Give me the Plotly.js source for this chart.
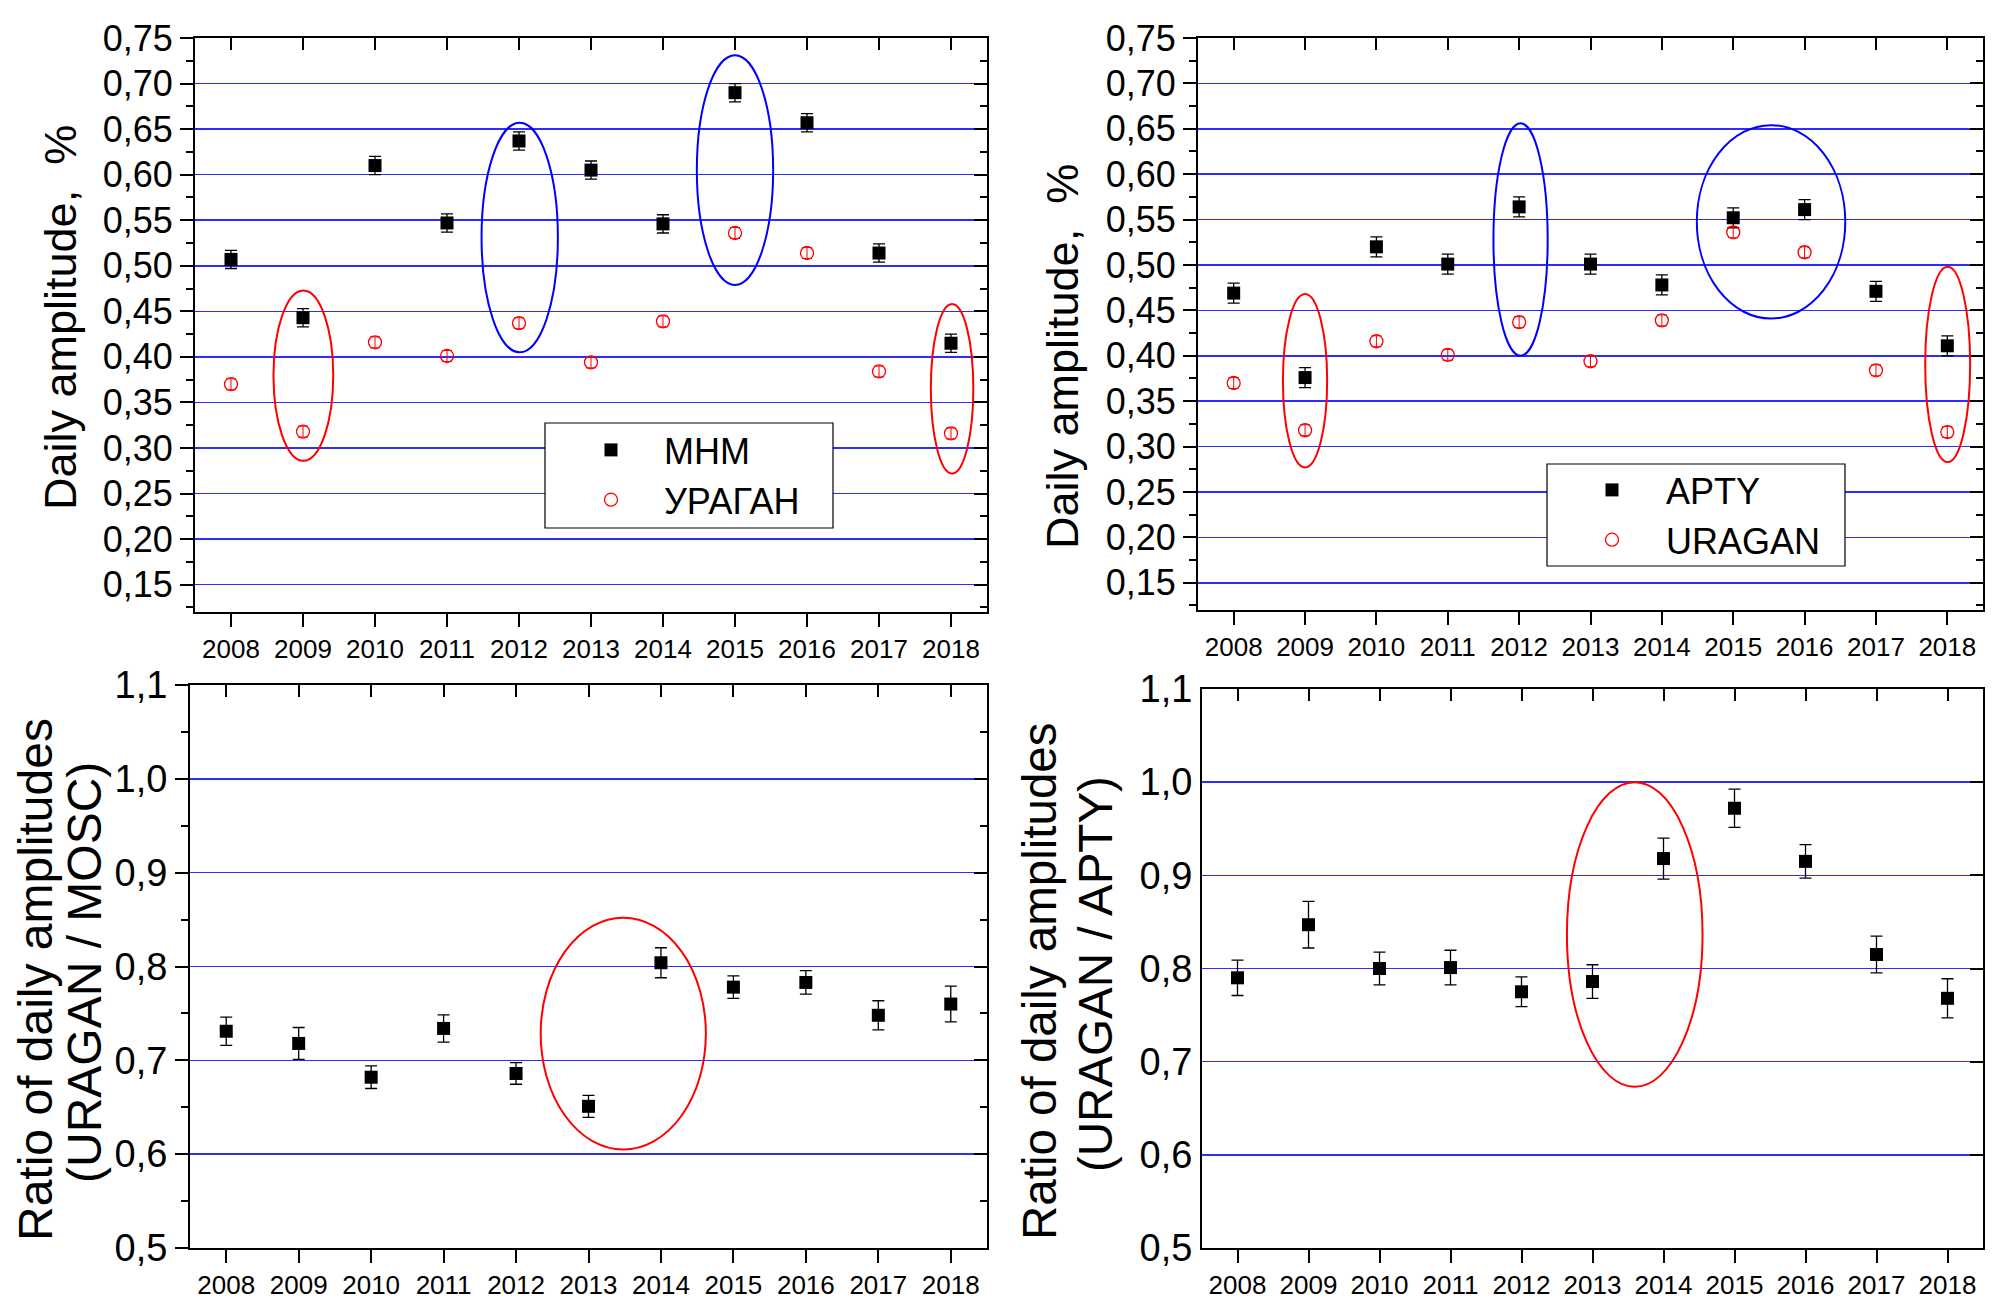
<!DOCTYPE html>
<html>
<head>
<meta charset="utf-8">
<script src="https://cdn.plot.ly/plotly-3.0.1.min.js"></script>
<style>html,body{margin:0;padding:0;background:#fff}#chart{width:2009px;height:1303px}</style>
</head>
<body>
<div id="chart"></div>
<script>
// ---------- data ----------
const years = [2008, 2009, 2010, 2011, 2012, 2013, 2014, 2015, 2016, 2017, 2018];
const yearLabels = ["2008","2009","2010","2011","2012","2013","2014","2015","2016","2017","2018"];

const mhm      = [0.507, 0.443, 0.610, 0.547, 0.637, 0.605, 0.546, 0.690, 0.657, 0.514, 0.415];
const mhmErr   = [0.010, 0.010, 0.010, 0.010, 0.010, 0.010, 0.010, 0.010, 0.010, 0.010, 0.010];
const uragan   = [0.370, 0.318, 0.416, 0.401, 0.437, 0.394, 0.439, 0.536, 0.514, 0.384, 0.316];
const uraganErr= [0.006, 0.006, 0.006, 0.006, 0.006, 0.006, 0.006, 0.006, 0.006, 0.006, 0.006];
const apty     = [0.469, 0.376, 0.520, 0.501, 0.564, 0.501, 0.478, 0.552, 0.561, 0.471, 0.411];
const aptyErr  = [0.011, 0.011, 0.011, 0.011, 0.011, 0.011, 0.011, 0.011, 0.011, 0.011, 0.011];

const ratioMosc    = [0.731, 0.718, 0.682, 0.734, 0.686, 0.651, 0.804, 0.778, 0.783, 0.748, 0.760];
const ratioMoscErr = [0.015, 0.017, 0.012, 0.0145, 0.0115, 0.0117, 0.016, 0.012, 0.0125, 0.0155, 0.019];
const ratioApty    = [0.790, 0.847, 0.800, 0.801, 0.775, 0.786, 0.918, 0.972, 0.915, 0.815, 0.768];
const ratioAptyErr = [0.019, 0.025, 0.0175, 0.0186, 0.016, 0.018, 0.022, 0.0205, 0.018, 0.0197, 0.021];

const seriesNames = ["МНМ", "УРАГАН", "APTY", "URAGAN"];
const yTitleTop = "Daily amplitude,  %";
const yTitleBottomLine1 = "Ratio of daily amplitudes";
const yTitleBottomLeft2 = "(URAGAN / MOSC)";
const yTitleBottomRight2 = "(URAGAN / APTY)";

// highlight ellipses (data coordinates of each panel)
const ellipses = [
  {panel: 1, x0: 2008.59, x1: 2009.42, y0: 0.286, y1: 0.473, color: "red"},
  {panel: 1, x0: 2011.48, x1: 2012.54, y0: 0.405, y1: 0.657, color: "blue"},
  {panel: 1, x0: 2014.47, x1: 2015.53, y0: 0.479, y1: 0.731, color: "blue"},
  {panel: 1, x0: 2017.72, x1: 2018.31, y0: 0.272, y1: 0.458, color: "red"},
  {panel: 2, x0: 2008.69, x1: 2009.31, y0: 0.277, y1: 0.468, color: "red"},
  {panel: 2, x0: 2011.64, x1: 2012.40, y0: 0.400, y1: 0.656, color: "blue"},
  {panel: 2, x0: 2014.49, x1: 2016.57, y0: 0.441, y1: 0.654, color: "blue"},
  {panel: 2, x0: 2017.69, x1: 2018.32, y0: 0.283, y1: 0.498, color: "red"},
  {panel: 3, x0: 2012.34, x1: 2014.62, y0: 0.605, y1: 0.852, color: "red"},
  {panel: 4, x0: 2012.64, x1: 2014.55, y0: 0.673, y1: 1.000, color: "red"}
];

// ---------- styles ----------
const FONT = "Liberation Sans, Arial, Helvetica, sans-serif";
const GRID = "rgb(45,45,255)";
const xRange = [2007.5, 2018.5];

const sq = {symbol: "square", size: 13, color: "black"};
const circ = {symbol: "circle-open", size: 13, color: "red", line: {color: "red", width: 1.3}};
const errBlack = arr => ({type: "data", array: arr, visible: true, color: "black", thickness: 1.3, width: 6});
const errRed = arr => ({type: "data", array: arr, visible: true, color: "red", thickness: 1, width: 5});

const traces = [
  {x: years, y: mhm, error_y: errBlack(mhmErr), mode: "markers", marker: sq, name: seriesNames[0], xaxis: "x", yaxis: "y", legend: "legend"},
  {x: years, y: uragan, error_y: errRed(uraganErr), mode: "markers", marker: circ, name: seriesNames[1], xaxis: "x", yaxis: "y", legend: "legend"},
  {x: years, y: apty, error_y: errBlack(aptyErr), mode: "markers", marker: sq, name: seriesNames[2], xaxis: "x2", yaxis: "y2", legend: "legend2"},
  {x: years, y: uragan, error_y: errRed(uraganErr), mode: "markers", marker: circ, name: seriesNames[3], xaxis: "x2", yaxis: "y2", legend: "legend2"},
  {x: years, y: ratioMosc, error_y: errBlack(ratioMoscErr), mode: "markers", marker: sq, showlegend: false, xaxis: "x3", yaxis: "y3"},
  {x: years, y: ratioApty, error_y: errBlack(ratioAptyErr), mode: "markers", marker: sq, showlegend: false, xaxis: "x4", yaxis: "y4"}
];

// panel geometry (pixels)
const W = 2009, H = 1303;
const panels = [
  {xd: [195, 987],  yd: [38, 612],  yr: [0.12, 0.75], tick0: 0.15, dtick: 0.05, fmt: ".2f", minor: 0.025, leftTicks: true, rightMinor: true, yfs: 36},
  {xd: [1198, 1983], yd: [38, 610], yr: [0.12, 0.75], tick0: 0.15, dtick: 0.05, fmt: ".2f", minor: 0.025, leftTicks: true, rightMinor: true, yfs: 36},
  {xd: [190, 987],  yd: [685, 1248], yr: [0.5, 1.1], tick0: 0.5, dtick: 0.1, fmt: ".1f", minor: 0.05, leftTicks: true, rightMinor: true, yfs: 38},
  {xd: [1202, 1983], yd: [689, 1248], yr: [0.5, 1.1], tick0: 0.5, dtick: 0.1, fmt: ".1f", minor: 0.05, leftTicks: false, rightMinor: false, yfs: 38}
];

const layout = {
  width: W, height: H,
  margin: {l: 0, r: 0, t: 0, b: 0},
  paper_bgcolor: "white", plot_bgcolor: "white",
  separators: ", ",
  font: {family: FONT, color: "black"},
  showlegend: true,
  shapes: [], annotations: []
};

panels.forEach((p, i) => {
  const n = i + 1;
  const s = n === 1 ? "" : String(n);
  const xdom = [p.xd[0] / W, p.xd[1] / W];
  const ydom = [1 - p.yd[1] / H, 1 - p.yd[0] / H];
  layout["xaxis" + s] = {
    domain: xdom, range: xRange, anchor: "y" + s,
    tickmode: "array", tickvals: years, ticktext: yearLabels,
    ticks: "outside", ticklen: 13, tickwidth: 2, tickcolor: "black",
    showline: true, linecolor: "black", linewidth: 2, mirror: true,
    showgrid: false, zeroline: false,
    tickfont: {family: FONT, size: 26, color: "black"}
  };
  layout["yaxis" + s] = {
    domain: ydom, range: p.yr, anchor: "x" + s,
    tick0: p.tick0, dtick: p.dtick, tickformat: p.fmt,
    ticks: p.leftTicks ? "outside" : "", ticklen: 13, tickwidth: 2, tickcolor: "black",
    minor: p.leftTicks ? {dtick: p.minor, tick0: p.tick0, ticks: "outside", ticklen: 7, tickwidth: 2, tickcolor: "black", showgrid: false} : undefined,
    showline: true, linecolor: "black", linewidth: 2, mirror: true,
    showgrid: true, gridcolor: GRID, gridwidth: 1.5, zeroline: false,
    tickfont: {family: FONT, size: p.yfs, color: "black"}
  };
  const ox = "xaxis" + (n + 4), oy = "yaxis" + (n + 4);
  layout[ox] = {
    overlaying: "x" + s, anchor: "y" + s, side: "top", range: xRange,
    tickmode: "array", tickvals: years, showticklabels: false,
    ticks: "inside", ticklen: 12, tickwidth: 2, tickcolor: "black",
    showline: false, showgrid: false, zeroline: false, fixedrange: true
  };
  layout[oy] = {
    overlaying: "y" + s, anchor: "x" + s, side: "right", range: p.yr,
    tick0: p.tick0, dtick: p.dtick, showticklabels: false,
    ticks: "inside", ticklen: 13, tickwidth: 2, tickcolor: "black",
    minor: p.rightMinor ? {dtick: p.minor, tick0: p.tick0, ticks: "inside", ticklen: 7, tickwidth: 2, tickcolor: "black", showgrid: false} : undefined,
    showline: false, showgrid: false, zeroline: false, fixedrange: true
  };
  traces.push({x: [], y: [], xaxis: "x" + (n + 4), yaxis: "y" + (n + 4), showlegend: false, hoverinfo: "skip", mode: "markers"});
});

ellipses.forEach(e => {
  const s = e.panel === 1 ? "" : String(e.panel);
  layout.shapes.push({type: "circle", xref: "x" + s, yref: "y" + s, x0: e.x0, x1: e.x1, y0: e.y0, y1: e.y1,
    line: {color: e.color, width: 2}, fillcolor: "rgba(0,0,0,0)", layer: "above"});
});

// legend boxes
const legendBoxes = [[545, 423, 833, 528], [1547, 464, 1845, 566]];
legendBoxes.forEach(b => {
  layout.shapes.push({type: "rect", xref: "paper", yref: "paper",
    x0: b[0] / W, x1: b[2] / W, y0: 1 - b[3] / H, y1: 1 - b[1] / H,
    line: {color: "black", width: 1.2}, fillcolor: "white", layer: "above"});
});

layout.legend = {x: 558 / W, y: 1 - 420 / H, xanchor: "left", yanchor: "top",
  bgcolor: "rgba(0,0,0,0)", borderwidth: 0, font: {family: FONT, size: 36, color: "black"}, itemwidth: 96};
layout.legend2 = {x: 1558 / W, y: 1 - 460 / H, xanchor: "left", yanchor: "top",
  bgcolor: "rgba(0,0,0,0)", borderwidth: 0, font: {family: FONT, size: 36, color: "black"}, itemwidth: 98};

const ann = (text, xpx, ypx, size) => ({text: text, xref: "paper", yref: "paper", x: xpx / W, y: 1 - ypx / H,
  xanchor: "center", yanchor: "middle", textangle: -90, showarrow: false, font: {family: FONT, size: size, color: "black"}});
layout.annotations.push(ann(yTitleTop, 60, 318, 45));
layout.annotations.push(ann(yTitleTop, 1063, 357, 45));
layout.annotations.push(ann(yTitleBottomLine1, 35, 980, 48));
layout.annotations.push(ann(yTitleBottomLeft2, 84, 973, 48));
layout.annotations.push(ann(yTitleBottomLine1, 1039, 981, 47.5));
layout.annotations.push(ann(yTitleBottomRight2, 1095, 974, 47.5));

Plotly.newPlot("chart", traces, layout, {staticPlot: true, displayModeBar: false});
</script>
</body>
</html>
